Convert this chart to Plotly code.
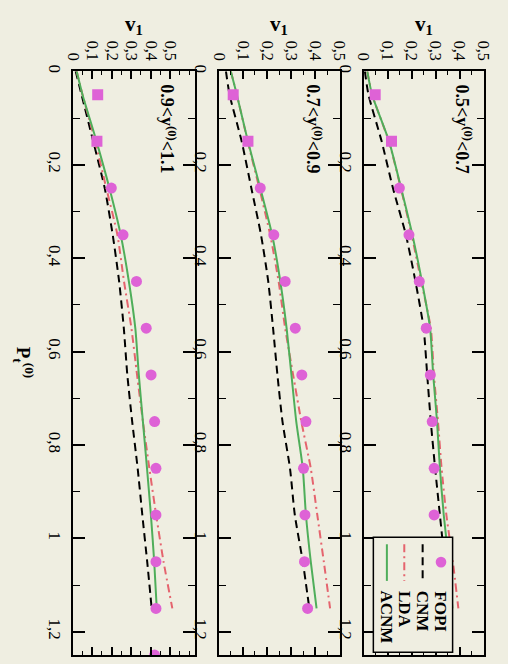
import plotly.graph_objects as go

# ---------------- data ----------------
pt_fopi = [0.05, 0.15, 0.25, 0.35, 0.45, 0.55, 0.65, 0.75, 0.85, 0.95, 1.05, 1.15, 1.25]
pt_model = [0.0, 0.05, 0.15, 0.25, 0.35, 0.45, 0.55, 0.65, 0.75, 0.85, 0.95, 1.05, 1.15]
v1_ticks = [0, 0.1, 0.2, 0.3, 0.4, 0.5]
pt_ticks = [0, 0.2, 0.4, 0.6, 0.8, 1.0, 1.2]

# panel 1 : 0.9<y<1.1
fopi_L = [0.128, 0.124, 0.198, 0.258, 0.327, 0.377, 0.402, 0.420, 0.427, 0.427, 0.427, 0.427, 0.420]
cnm_L = [0.015, 0.045, 0.105, 0.164, 0.205, 0.238, 0.262, 0.280, 0.305, 0.333, 0.357, 0.382, 0.405]
lda_L = [0.020, 0.050, 0.115, 0.172, 0.229, 0.263, 0.301, 0.330, 0.360, 0.393, 0.428, 0.466, 0.511]
acnm_L = [0.020, 0.050, 0.122, 0.188, 0.246, 0.288, 0.321, 0.339, 0.360, 0.381, 0.401, 0.418, 0.431]

# panel 2 : 0.7<y<0.9
fopi_M = [0.060, 0.121, 0.172, 0.228, 0.275, 0.317, 0.344, 0.361, 0.351, 0.357, 0.355, 0.368]
cnm_M = [0.030, 0.045, 0.095, 0.135, 0.175, 0.205, 0.225, 0.243, 0.264, 0.295, 0.315, 0.348, 0.375]
lda_M = [0.050, 0.075, 0.120, 0.168, 0.213, 0.248, 0.275, 0.308, 0.342, 0.381, 0.408, 0.435, 0.461]
acnm_M = [0.050, 0.075, 0.121, 0.172, 0.221, 0.255, 0.281, 0.301, 0.321, 0.348, 0.361, 0.381, 0.405]

# panel 3 : 0.5<y<0.7
fopi_R = [0.048, 0.116, 0.149, 0.189, 0.232, 0.261, 0.278, 0.286, 0.294, 0.294]
cnm_R = [0.005, 0.020, 0.075, 0.122, 0.176, 0.216, 0.250, 0.265, 0.280, 0.298, 0.318, 0.338, 0.360]
lda_R = [0.015, 0.035, 0.105, 0.155, 0.200, 0.240, 0.280, 0.293, 0.310, 0.325, 0.345, 0.372, 0.395]
acnm_R = [0.015, 0.035, 0.106, 0.156, 0.203, 0.243, 0.277, 0.290, 0.306, 0.318, 0.334, 0.355, 0.370]

panel_labels = ["0.9&lt;y<sup>(0)</sup>&lt;1.1", "0.7&lt;y<sup>(0)</sup>&lt;0.9", "0.5&lt;y<sup>(0)</sup>&lt;0.7"]
legend_names = ["FOPI", "CNM", "LDA", "ACNM"]

# ---------------- style ----------------
BG = "#efeee1"
MAG = "#de62d6"
GREEN = "#4fae5a"
RED = "#e5646e"
SERIF = "Liberation Serif"

W, H = 508, 664
boxes_px = [(67, 193), (218, 343), (368, 492)]
top_px, bot_px = 65, 655
xranges = [[0, 0.625], [0, 0.5], [0, 0.5]]

fig = go.Figure()

panels = [
    (fopi_L, cnm_L, lda_L, acnm_L),
    (fopi_M, cnm_M, lda_M, acnm_M),
    (fopi_R, cnm_R, lda_R, acnm_R),
]

for i, (fopi, cnm, lda, acnm) in enumerate(panels):
    xa = "x" if i == 0 else f"x{i+1}"
    ya = "y" if i == 0 else f"y{i+1}"
    fig.add_trace(go.Scatter(x=cnm, y=pt_model, mode="lines", xaxis=xa, yaxis=ya,
                             line=dict(color="black", width=2, dash="8px,5px", shape="spline", smoothing=0.6),
                             showlegend=False))
    fig.add_trace(go.Scatter(x=lda, y=pt_model, mode="lines", xaxis=xa, yaxis=ya,
                             line=dict(color=RED, width=2, dash="8px,4px,2px,4px", shape="spline", smoothing=0.6),
                             showlegend=False))
    fig.add_trace(go.Scatter(x=acnm, y=pt_model, mode="lines", xaxis=xa, yaxis=ya,
                             line=dict(color=GREEN, width=2, shape="spline", smoothing=0.6),
                             showlegend=False))
    pts = pt_fopi[:len(fopi)]
    syms = ["square", "square"] + ["circle"] * (len(fopi) - 2)
    fig.add_trace(go.Scatter(x=fopi, y=pts, mode="markers", xaxis=xa, yaxis=ya,
                             marker=dict(color=MAG, size=11, symbol=syms, line=dict(width=0)),
                             showlegend=False))

ydom = [(H - bot_px) / H, (H - top_px) / H]
layout = dict(
    width=W, height=H, margin=dict(l=0, r=0, t=0, b=0),
    paper_bgcolor=BG, plot_bgcolor=BG, separators=", ",
    showlegend=False,
)
for i, (x0, x1) in enumerate(boxes_px):
    xk = "xaxis" if i == 0 else f"xaxis{i+1}"
    yk = "yaxis" if i == 0 else f"yaxis{i+1}"
    ya = "y" if i == 0 else f"y{i+1}"
    xa = "x" if i == 0 else f"x{i+1}"
    layout[xk] = dict(
        domain=[x0 / W, x1 / W], anchor=ya, side="top", range=xranges[i],
        tickmode="array", tickvals=v1_ticks, ticks="inside", ticklen=8, tickwidth=1.5, tickcolor="black",
        minor=dict(tickmode="linear", tick0=0, dtick=0.05, ticks="inside", ticklen=4, tickwidth=1.2, tickcolor="black"),
        showline=True, linewidth=2, linecolor="black", mirror="ticks",
        showgrid=False, zeroline=False, tickangle=90, ticklabelstandoff=3,
        tickfont=dict(family=SERIF, size=16, color="black"),
    )
    layout[yk] = dict(
        domain=ydom, anchor=xa, range=[1.25, 0],
        tickmode="array", tickvals=pt_ticks, ticks="inside", ticklen=12, tickwidth=1.5, tickcolor="black",
        minor=dict(tickmode="linear", tick0=0, dtick=0.1, ticks="inside", ticklen=7, tickwidth=1.2, tickcolor="black"),
        showline=True, linewidth=2, linecolor="black", mirror="ticks",
        showgrid=False, zeroline=False, tickangle=90, ticklabelstandoff=1,
        tickfont=dict(family=SERIF, size=17, color="black"),
    )
fig.update_layout(**layout)

annotations = []
shapes = []
label_x_px = [161, 312, 467]
for i, (x0, x1) in enumerate(boxes_px):
    # v1 axis title
    annotations.append(dict(
        x=(x0 + x1) / 2 / W, y=(H - 18) / H, xref="paper", yref="paper",
        text="<b>v<sub>1</sub></b>", showarrow=False,
        font=dict(family=SERIF, size=21, color="black"), xanchor="center", yanchor="middle"))
    # rapidity label
    annotations.append(dict(
        x=(label_x_px[i] + 4) / W, y=(H - 76) / H, xref="paper", yref="paper",
        text="<b>" + panel_labels[i] + "</b>", showarrow=False, textangle=90,
        font=dict(family=SERIF, size=18, color="black"), xanchor="center", yanchor="top"))

# Pt axis title (left)
annotations.append(dict(
    x=16 / W, y=(H - 360) / H, xref="paper", yref="paper",
    text="<b>P<sub>t</sub><sup>(0)</sup></b>", showarrow=False, textangle=90,
    font=dict(family=SERIF, size=19, color="black"), xanchor="center", yanchor="middle"))

# hand-drawn rotated legend in the right panel
rx0, rx1 = boxes_px[2]
rw = rx1 - rx0
ph = bot_px - top_px


def fx(px):
    return (px - rx0) / rw


def fy(py):
    return (bot_px - py) / ph


shapes.append(dict(type="rect", xref="x3 domain", yref="y3 domain",
                   x0=fx(378), x1=fx(460), y0=fy(652), y1=fy(536),
                   fillcolor=BG, line=dict(color="black", width=1.5), layer="above"))
cols = [448, 429, 410, 392]
# FOPI marker
shapes.append(dict(type="circle", xref="x3 domain", yref="y3 domain",
                   x0=fx(448 - 5.5), x1=fx(448 + 5.5), y0=fy(561 + 5.5), y1=fy(561 - 5.5),
                   fillcolor=MAG, line=dict(width=0), layer="above"))
shapes.append(dict(type="line", xref="x3 domain", yref="y3 domain",
                   x0=fx(cols[1]), x1=fx(cols[1]), y0=fy(543), y1=fy(580),
                   line=dict(color="black", width=2, dash="8px,5px"), layer="above"))
shapes.append(dict(type="line", xref="x3 domain", yref="y3 domain",
                   x0=fx(cols[2]), x1=fx(cols[2]), y0=fy(543), y1=fy(580),
                   line=dict(color=RED, width=2, dash="8px,4px,2px,4px"), layer="above"))
shapes.append(dict(type="line", xref="x3 domain", yref="y3 domain",
                   x0=fx(cols[3]), x1=fx(cols[3]), y0=fy(543), y1=fy(580),
                   line=dict(color=GREEN, width=2), layer="above"))
for name, cx in zip(legend_names, cols):
    annotations.append(dict(
        x=fx(cx), y=fy(588), xref="x3 domain", yref="y3 domain",
        text="<b>" + name + "</b>", showarrow=False, textangle=90,
        font=dict(family=SERIF, size=17, color="black"), xanchor="center", yanchor="top"))

fig.update_layout(annotations=annotations, shapes=shapes)
fig.write_html("out.html")
